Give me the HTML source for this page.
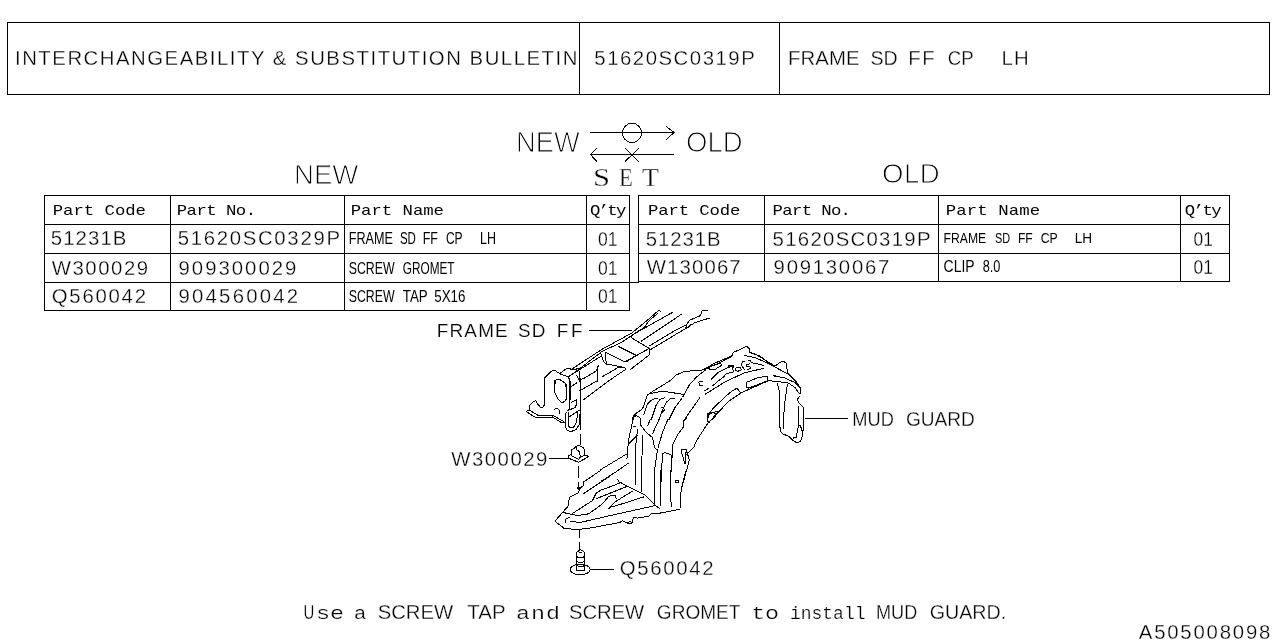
<!DOCTYPE html>
<html><head><meta charset="utf-8"><title>Interchangeability &amp; Substitution Bulletin</title>
<style>
html,body{margin:0;padding:0;background:#fff;width:1280px;height:640px;overflow:hidden}
svg{display:block;will-change:transform}
.t text{font-family:"Liberation Sans", sans-serif;fill:#000;white-space:pre}
</style></head><body>
<svg width="1280" height="640" viewBox="0 0 1280 640">
<g fill="none" stroke="#000" stroke-width="1" shape-rendering="crispEdges">
<path d="M7 22.5H1270"/>
<path d="M7 94.5H1270"/>
<path d="M7.5 22V95"/>
<path d="M1269.5 22V95"/>
<path d="M579.5 22V95"/>
<path d="M779.5 22V95"/>
<path d="M44 195.5H630"/>
<path d="M44 224.5H630"/>
<path d="M44 253.5H630"/>
<path d="M44 282.5H630"/>
<path d="M44 310.5H630"/>
<path d="M44.5 195V311"/>
<path d="M170.5 195V311"/>
<path d="M344.5 195V311"/>
<path d="M586.5 195V311"/>
<path d="M629.5 195V311"/>
<path d="M638 195.5H1230"/>
<path d="M638 224.5H1230"/>
<path d="M638 253.5H1230"/>
<path d="M629 282.5H639"/>
<path d="M638 281.5H1230"/>
<path d="M638.5 195V282"/>
<path d="M764.5 195V282"/>
<path d="M938.5 195V282"/>
<path d="M1180.5 195V282"/>
<path d="M1229.5 195V282"/>
</g>
<g class="t">
<text transform="translate(15 65)" font-size="20.35" letter-spacing="1.512" style="stroke:#fff;stroke-width:0.30px">INTERCHANGEABILITY &amp; SUBSTITUTION BULLETIN</text>
<text transform="translate(594.3 65)" font-size="20.35" letter-spacing="1.527" style="stroke:#fff;stroke-width:0.30px">51620SC0319P</text>
<text transform="translate(788.1 65)" font-size="20.35" letter-spacing="0.075" style="stroke:#fff;stroke-width:0.30px">FRAME</text>
<text transform="translate(870.4 65) scale(0.963 1)" font-size="20.35" style="stroke:#fff;stroke-width:0.30px">SD</text>
<text transform="translate(908.2 65)" font-size="20.35" letter-spacing="1.6" style="stroke:#fff;stroke-width:0.30px">FF</text>
<text transform="translate(947.8 65) scale(0.9145 1)" font-size="20.35" style="stroke:#fff;stroke-width:0.30px">CP</text>
<text transform="translate(1001.4 65)" font-size="20.35" letter-spacing="1.4" style="stroke:#fff;stroke-width:0.30px">LH</text>
<text transform="translate(516 152) scale(0.9396 1)" font-size="29.07" style="stroke:#fff;stroke-width:1.10px">NEW</text>
<text transform="translate(686 152) scale(0.9483 1)" font-size="29.07" style="stroke:#fff;stroke-width:1.10px">OLD</text>
<text transform="translate(593 186) scale(1.25 1)" font-size="24.44" style="font-family:'Liberation Serif',serif;stroke:#fff;stroke-width:0.30px">S</text>
<text transform="translate(619 186) scale(0.9286 1)" font-size="24.44" style="font-family:'Liberation Serif',serif;stroke:#fff;stroke-width:0.30px">E</text>
<text transform="translate(642 186) scale(1.1333 1)" font-size="24.44" style="font-family:'Liberation Serif',serif;stroke:#fff;stroke-width:0.30px">T</text>
<text transform="translate(294 184)" font-size="27.62" style="stroke:#fff;stroke-width:0.96px">NEW</text>
<text transform="translate(882 183)" font-size="27.62" letter-spacing="0.5" style="stroke:#fff;stroke-width:0.96px">OLD</text>
<text transform="translate(52.75 215) scale(1.22 1)" font-size="14.2" letter-spacing="-0.026" style="font-family:'Liberation Mono',monospace">Part Code</text>
<text transform="translate(176.75 215) scale(1.22 1)" font-size="14.2" letter-spacing="-0.439" style="font-family:'Liberation Mono',monospace">Part No.</text>
<text transform="translate(350.75 215) scale(1.22 1)" font-size="14.2" letter-spacing="-0.026" style="font-family:'Liberation Mono',monospace">Part Name</text>
<text transform="translate(589.9 215) scale(1.22 1)" font-size="14.2" letter-spacing="-1.366" style="font-family:'Liberation Mono',monospace">Q’ty</text>
<text transform="translate(50.75 245)" font-size="20.35" letter-spacing="1.1" style="stroke:#fff;stroke-width:0.30px">51231B</text>
<text transform="translate(177.7 245)" font-size="20.35" letter-spacing="1.691" style="stroke:#fff;stroke-width:0.30px">51620SC0329P</text>
<text transform="translate(348.75 244) scale(0.7902 1)" font-size="15.99">FRAME</text>
<text transform="translate(399.9 244) scale(0.7202 1)" font-size="15.99">SD</text>
<text transform="translate(422.75 244) scale(0.7812 1)" font-size="15.99">FF</text>
<text transform="translate(445.9 244) scale(0.7549 1)" font-size="15.99">CP</text>
<text transform="translate(480 244) scale(0.7815 1)" font-size="15.99">LH</text>
<text transform="translate(598 246) scale(0.8636 1)" font-size="20.35" style="stroke:#fff;stroke-width:0.30px">01</text>
<text transform="translate(51.75 275)" font-size="20.35" letter-spacing="1.542" style="stroke:#fff;stroke-width:0.30px">W300029</text>
<text transform="translate(178.5 275)" font-size="20.35" letter-spacing="2.0" style="stroke:#fff;stroke-width:0.30px">909300029</text>
<text transform="translate(348.75 274) scale(0.7715 1)" font-size="15.99">SCREW</text>
<text transform="translate(402.75 274) scale(0.7394 1)" font-size="15.99">GROMET</text>
<text transform="translate(598 275) scale(0.8636 1)" font-size="20.35" style="stroke:#fff;stroke-width:0.30px">01</text>
<text transform="translate(51.75 303)" font-size="20.35" letter-spacing="1.75" style="stroke:#fff;stroke-width:0.30px">Q560042</text>
<text transform="translate(178.5 303)" font-size="20.35" letter-spacing="2.225" style="stroke:#fff;stroke-width:0.30px">904560042</text>
<text transform="translate(348.75 302) scale(0.7715 1)" font-size="15.99">SCREW</text>
<text transform="translate(402.75 302) scale(0.8355 1)" font-size="15.99">TAP</text>
<text transform="translate(434.25 302) scale(0.8368 1)" font-size="15.99">5X16</text>
<text transform="translate(598 303) scale(0.8636 1)" font-size="20.35" style="stroke:#fff;stroke-width:0.30px">01</text>
<text transform="translate(648 215) scale(1.22 1)" font-size="14.2" letter-spacing="-0.102" style="font-family:'Liberation Mono',monospace">Part Code</text>
<text transform="translate(772.6 215) scale(1.22 1)" font-size="14.2" letter-spacing="-0.55" style="font-family:'Liberation Mono',monospace">Part No.</text>
<text transform="translate(945.7 215) scale(1.22 1)" font-size="14.2" letter-spacing="0.092" style="font-family:'Liberation Mono',monospace">Part Name</text>
<text transform="translate(1184.8 215) scale(1.22 1)" font-size="14.2" letter-spacing="-1.284" style="font-family:'Liberation Mono',monospace">Q’ty</text>
<text transform="translate(645.7 246)" font-size="20.35" letter-spacing="0.96" style="stroke:#fff;stroke-width:0.30px">51231B</text>
<text transform="translate(772.6 246)" font-size="20.35" letter-spacing="1.291" style="stroke:#fff;stroke-width:0.30px">51620SC0319P</text>
<text transform="translate(943.6 243) scale(0.8373 1)" font-size="14.54">FRAME</text>
<text transform="translate(995 243) scale(0.7509 1)" font-size="14.54">SD</text>
<text transform="translate(1017.9 243) scale(0.8333 1)" font-size="14.54">FF</text>
<text transform="translate(1040.7 243) scale(0.8409 1)" font-size="14.54">CP</text>
<text transform="translate(1074.7 243) scale(0.9343 1)" font-size="14.54">LH</text>
<text transform="translate(1193.6 246) scale(0.8552 1)" font-size="20.35" style="stroke:#fff;stroke-width:0.30px">01</text>
<text transform="translate(646.7 274)" font-size="20.35" letter-spacing="1.15" style="stroke:#fff;stroke-width:0.30px">W130067</text>
<text transform="translate(773.6 274)" font-size="20.35" letter-spacing="1.737" style="stroke:#fff;stroke-width:0.30px">909130067</text>
<text transform="translate(943.6 272) scale(0.8748 1)" font-size="15.99">CLIP</text>
<text transform="translate(982.7 272) scale(0.7961 1)" font-size="15.99">8.0</text>
<text transform="translate(1193.6 274) scale(0.8552 1)" font-size="20.35" style="stroke:#fff;stroke-width:0.30px">01</text>
<text transform="translate(436.7 337)" font-size="18.9" letter-spacing="1.225" style="stroke:#fff;stroke-width:0.17px">FRAME</text>
<text transform="translate(517.9 337)" font-size="18.9" letter-spacing="1.2" style="stroke:#fff;stroke-width:0.17px">SD</text>
<text transform="translate(556.7 337)" font-size="18.9" letter-spacing="2.7" style="stroke:#fff;stroke-width:0.17px">FF</text>
<text transform="translate(852.3 426) scale(0.8981 1)" font-size="20.35" style="stroke:#fff;stroke-width:0.30px">MUD</text>
<text transform="translate(905.9 426) scale(0.9384 1)" font-size="20.35" style="stroke:#fff;stroke-width:0.30px">GUARD</text>
<text transform="translate(451.25 466)" font-size="20.35" letter-spacing="1.5" style="stroke:#fff;stroke-width:0.30px">W300029</text>
<text transform="translate(619.75 575)" font-size="20.35" letter-spacing="1.675" style="stroke:#fff;stroke-width:0.30px">Q560042</text>
<text transform="translate(303.5 619) scale(0.7359 1)" font-size="20.35" style="stroke:#fff;stroke-width:0.30px">U</text>
<text transform="translate(316 619) scale(1.3 1)" font-size="18" style="font-family:'Liberation Mono',monospace;stroke:#fff;stroke-width:0.23px">se</text>
<text transform="translate(353.8 619) scale(1.1826 1)" font-size="18" style="font-family:'Liberation Mono',monospace;stroke:#fff;stroke-width:0.23px">a</text>
<text transform="translate(377.7 619)" font-size="20.35" letter-spacing="-0.05" style="stroke:#fff;stroke-width:0.30px">SCREW</text>
<text transform="translate(467.3 619) scale(1.0056 1)" font-size="20.35" style="stroke:#fff;stroke-width:0.30px">TAP</text>
<text transform="translate(516.1 619) scale(1.3 1)" font-size="18" letter-spacing="0.692" style="font-family:'Liberation Mono',monospace;stroke:#fff;stroke-width:0.23px">and</text>
<text transform="translate(569 619)" font-size="20.35" letter-spacing="-0.125" style="stroke:#fff;stroke-width:0.30px">SCREW</text>
<text transform="translate(656.8 619) scale(0.9371 1)" font-size="20.35" style="stroke:#fff;stroke-width:0.30px">GROMET</text>
<text transform="translate(751.3 619) scale(1.3 1)" font-size="18" letter-spacing="-0.231" style="font-family:'Liberation Mono',monospace;stroke:#fff;stroke-width:0.23px">to</text>
<text transform="translate(789.9 619)" font-size="18" style="font-family:'Liberation Mono',monospace;stroke:#fff;stroke-width:0.23px">install</text>
<text transform="translate(876 619) scale(0.8889 1)" font-size="20.35" style="stroke:#fff;stroke-width:0.30px">MUD</text>
<text transform="translate(929.7 619) scale(0.9668 1)" font-size="20.35" style="stroke:#fff;stroke-width:0.30px">GUARD.</text>
<text transform="translate(1138.75 639)" font-size="20.35" letter-spacing="1.806" style="stroke:#fff;stroke-width:0.30px">A505008098</text>
</g>
<g fill="none" stroke="#000" stroke-width="1" shape-rendering="crispEdges">
<path d="M590 132.5H674M666 126.2L674 132.5L666 139.8"/>
<circle cx="632" cy="132.9" r="9.6"/>
<path d="M590.4 154.5H674M596.8 148.2L590.4 154.5L596.8 161.5M625.1 148.2L638.8 161.5M638.8 148.2L625.1 161.5"/>
<path d="M589 330.5H632"/>
<path d="M805 418.5H848"/>
<path d="M549 458.5H570"/>
<path d="M590.5 569.5H614"/>
<path d="M544.1 378.1 L544.1 405.3 L543.1 407.2 L540.3 407.2 L537.5 403.9 L535.6 400.6 L533.3 402.0 L530.0 405.3 L529.1 410.0 L525.8 411.4"/>
<path d="M525.8 411.4 L535.6 417.5 L552.5 417.0 L560.9 422.2 L566.1 422.6"/>
<path d="M529.1 410.0 L538.4 415.6 L553.4 415.6 L564.7 422.2"/>
<path d="M555.3 380.0 L554.4 391.2 L557.2 397.8 L561.9 403.0 L565.6 400.6 L566.5 396.9 L566.5 383.7"/>
<path d="M554.4 409.5 L557.2 408.1 L559.5 410.9 L559.0 414.2"/>
<path d="M569.4 378.1 L569.4 409.1 L567.0 410.9"/>
<path d="M580.6 378.1 L580.6 430.3"/>
<path d="M566.1 411.9 L565.1 426.9 L567.5 430.6 L571.2 431.5 L575.9 429.7 L579.7 424.0 L580.1 410.9"/>
<path d="M568.4 411.9 L568.4 425.9 L570.3 427.8 L574.0 426.9 L576.9 421.2 L577.3 410.9"/>
<path d="M567.0 410.9 L575.9 407.2 L576.4 399.7 L571.2 402.5"/>
<path d="M568.9 417.0 L579.7 410.0"/>
<path d="M571.2 386.6 L576.9 382.8"/>
<path d="M544.4 400.0 L544.4 378.0 L552.8 370.0 L555.1 370.5 L559.8 373.7"/>
<path d="M559.8 373.7 L566.9 368.1 L568.7 368.1 L572.5 370.0 L578.1 368.6 L579.0 370.9"/>
<path d="M554.2 381.2 L556.6 379.4 L560.3 379.8 L565.0 383.1 L566.4 388.7 L566.4 400.0"/>
<path d="M554.2 381.2 L554.7 392.5 L558.4 400.0"/>
<path d="M559.8 373.7 L568.3 377.0 L570.1 381.2 L570.1 400.0"/>
<path d="M567.8 377.5 L575.3 371.9 L578.1 370.0"/>
<path d="M576.2 374.7 L579.0 379.4 L579.5 370.9"/>
<path d="M579.5 370.9 L580.9 400.0"/>
<path d="M572.0 368.9 L602.2 349.2 L631.7 333.1 L647.2 320.4 L658.5 310.5 L661.3 311.3"/>
<path d="M577.6 370.3 L602.2 351.3 L621.9 342.2 L633.1 334.5 L644.4 327.4 L648.6 321.1 L658.5 312.7"/>
<path d="M568.4 376.7 L600.8 356.3"/>
<path d="M631.7 335.2 L631.7 338.0 L649.3 348.5 L649.3 354.9 L630.3 369.6"/>
<path d="M633.1 334.5 L672.5 312.4"/>
<path d="M640.9 341.5 L681.7 314.1"/>
<path d="M648.6 346.4 L676.7 329.5 L686.6 324.6 L689.4 320.4 L700.6 315.5 L702.1 310.5 L707.7 310.1"/>
<path d="M650.0 349.9 L676.7 333.8 L686.6 328.1 L695.0 322.5 L709.8 318.0"/>
<path d="M686.6 324.6 L685.9 327.4 L688.0 328.1 L691.5 323.9"/>
<path d="M605.0 352.0 L624.7 361.9 L647.9 349.2"/>
<path d="M618.4 346.4 L636.7 355.6 L626.1 361.9"/>
<path d="M600.8 353.4 L603.6 361.9 L606.4 364.0"/>
<path d="M605.0 352.0 L606.4 364.0 L624.7 367.5 L626.1 368.9"/>
<path d="M579.4 379.4 L583.1 378.9 L596.2 370.9 L598.1 366.2 L599.1 365.3"/>
<path d="M597.2 365.8 L597.2 381.2"/>
<path d="M595.3 381.2 L598.1 381.2"/>
<path d="M579.4 391.1 L596.2 381.2"/>
<path d="M601.9 377.0 L618.7 367.2 L626.2 368.1"/>
<path d="M583.1 400.0 L598.1 388.7 L612.2 378.4 L626.2 369.1"/>
<path d="M580.5 434V445" />
<path d="M568.4 458.1 L578.4 462.2 L588.4 456.9 L586.9 455.3 L584.4 455.3"/>
<path d="M568.4 458.1 L568.4 455.3 L571.2 454.7"/>
<path d="M571.2 455.6 L571.2 450.0 L574.4 448.1 L576.6 446.2 L578.8 445.3 L580.6 446.2 L583.1 447.5 L584.4 449.4 L584.4 455.6"/>
<path d="M576.9 446.9 L576.6 449.7 L578.8 450.9 L580.6 456.9"/>
<path d="M571.2 455.6 L578.4 459.4 L580.6 456.9 L584.4 455.6"/>
<path d="M578.5 466V478"/>
<path d="M578.5 482V490"/>
<rect x="577" y="487" width="4" height="2" fill="#000" stroke="none"/>
<path d="M579.7 530V538M579.7 542V549"/>
<path d="M576.4 570.9 L576.4 553.1 L578.3 550.5 L580.1 549.8 L582.5 550.5 L584.8 553.1 L584.8 570.9"/>
<path d="M578.3 551.7 L580.1 553.1 L582.5 551.7"/>
<path d="M576.4 555.9 L578.3 557.6 L583.0 557.6 L584.8 555.9"/>
<path d="M576.4 560.4 L578.3 562.1 L583.0 562.1 L584.8 560.4"/>
<path d="M576.4 564.8 L578.3 566.5 L583.0 566.5 L584.8 564.8"/>
<path d="M576.4 569.2 L578.3 570.9 L583.0 570.9 L584.8 569.2"/>
<ellipse cx="580.2" cy="569.5" rx="10" ry="5.3"/>
<path d="M633.1 420.0 L633.8 415.0 L636.9 412.5 L640.0 411.2 L643.1 407.5 L647.5 395.0 L650.0 393.1 L660.0 386.9 L671.2 380.0 L676.2 375.0 L685.0 371.2 L700.0 370.6 L707.5 368.1 L720.0 362.5 L731.9 356.2 L733.1 352.5 L740.0 349.4 L746.2 346.2 L749.4 348.8 L750.0 352.5 L760.0 356.2 L770.0 363.8"/>
<path d="M648.8 393.8 L662.5 391.2 L683.8 394.4"/>
<path d="M643.8 415.0 L647.5 403.8 L652.5 399.4 L657.5 398.1"/>
<path d="M651.2 420.0 L656.2 405.0 L660.0 399.4 L665.0 397.5"/>
<path d="M658.8 420.0 L662.5 410.0 L666.2 402.5 L670.0 398.8 L675.0 398.8"/>
<path d="M660.6 408.1 L663.1 406.9 L664.4 410.0 L661.9 412.5"/>
<path d="M668.8 420.0 L675.0 407.5 L682.5 397.5 L690.0 383.8 L697.5 376.2 L706.2 369.4"/>
<path d="M685.0 418.8 L700.0 397.5"/>
<path d="M698.8 381.9 L702.5 381.2"/>
<path d="M698.8 381.9 L699.4 385.0 L703.1 385.6"/>
<path d="M702.5 370.0 L715.0 363.1 L731.2 356.2 L733.1 352.5 L740.0 349.4 L746.9 346.2 L749.4 348.8 L750.0 352.5 L755.0 353.8 L765.0 360.0 L775.0 366.2 L780.0 362.5 L783.1 361.2 L786.2 363.1 L787.5 372.5 L795.0 380.0 L800.0 387.5 L800.6 393.8"/>
<path d="M778.8 381.8 L787.5 382.5 L795.0 387.5 L799.4 393.8"/>
<path d="M773.8 375.6 L785.0 378.1 L795.0 382.5 L800.0 387.5"/>
<path d="M744.4 355.6 L755.0 357.5 L770.0 364.4 L787.5 373.8 L797.5 383.8 L800.0 387.5"/>
<path d="M708.1 367.2 L710.3 370.0 L714.7 369.7 L721.6 365.3 L720.6 363.1 L708.1 367.5"/>
<path d="M711.2 379.4 L718.1 372.5 L728.1 367.5 L733.8 365.6"/>
<path d="M728.1 367.5 L728.1 365.3 L733.8 365.3 L732.5 368.8 L734.1 371.9"/>
<path d="M735.6 368.1 L737.5 367.2 L740.6 367.5 L741.2 370.0 L738.1 371.2 L735.6 370.6 L735.6 368.1"/>
<path d="M745.0 361.2 L742.5 361.6 L741.2 364.4 L744.4 369.7"/>
<path d="M750.0 363.8 L746.9 364.4 L746.6 366.2 L750.0 366.6 L750.6 368.4 L746.6 369.7"/>
<path d="M747.5 360.6 L750.0 360.6 L751.9 362.8 L763.8 365.3"/>
<path d="M712.5 386.2 L716.9 381.9 L723.8 376.9 L726.2 373.8 L733.1 371.9"/>
<path d="M704.4 391.2 L709.4 387.5"/>
<path d="M705.0 394.4 L725.0 381.9 L743.8 373.1 L764.4 368.1"/>
<path d="M746.2 382.5 L746.9 387.5 L748.8 388.1 L768.1 380.6 L767.5 376.6 L758.8 377.2 L746.2 382.5"/>
<path d="M740.6 393.1 L768.1 380.9 L780.0 381.2"/>
<path d="M773.1 375.0 L775.0 376.6 L780.0 376.6"/>
<path d="M707.5 420.0 L708.8 413.8 L713.8 407.5 L730.0 392.5 L736.9 388.1 L740.0 392.2 L740.9 393.1"/>
<path d="M712.5 420.0 L717.5 413.1 L728.8 401.2 L740.9 393.1"/>
<path d="M708.8 415.0 L712.5 412.2 L716.2 414.1"/>
<path d="M776.9 382.5 L779.4 391.2 L780.0 427.5 L781.2 432.5 L783.8 434.4 L788.8 436.2 L793.1 440.6 L796.2 442.5 L800.0 441.9 L801.9 438.8 L802.5 430.0"/>
<path d="M787.5 383.8 L784.4 405.0 L783.1 428.8"/>
<path d="M799.4 396.2 L797.5 399.4 L798.8 402.5 L800.6 404.4 L802.5 406.2 L803.8 408.8 L803.8 430.0 L801.2 430.0"/>
<path d="M798.8 406.2 L798.1 427.5 L797.5 430.0 L796.2 437.5 L793.1 438.1"/>
<path d="M797.5 426.2 L800.0 425.6 L801.9 429.4"/>
<path d="M634.4 415.0 L632.5 417.5 L631.9 425.0 L629.4 435.0 L628.1 445.0 L627.5 453.8 L626.9 458.8"/>
<path d="M634.4 415.0 L638.8 411.2 L641.2 410.0"/>
<path d="M632.5 417.5 L636.2 415.6 L640.0 417.5 L640.6 425.0 L646.2 432.5 L652.5 437.5 L654.4 447.5 L657.5 450.0"/>
<path d="M633.1 426.2 L635.6 426.2"/>
<path d="M600.0 470.0 L612.5 462.5 L625.0 455.0 L628.1 454.4"/>
<path d="M601.2 481.2 L615.0 472.5 L629.4 462.5"/>
<path d="M628.8 443.8 L637.5 435.0"/>
<path d="M637.5 428.8 L635.6 447.5 L635.6 485.0"/>
<path d="M642.5 435.0 L641.2 490.0"/>
<path d="M657.5 450.0 L655.0 467.5 L654.4 490.0"/>
<path d="M660.6 490.0 L662.5 453.8 L665.0 452.5 L671.2 455.0 L671.9 457.5 L670.0 490.0"/>
<path d="M672.5 457.5 L672.5 445.0 L677.5 435.0 L683.1 427.5 L683.1 421.2 L687.5 417.5"/>
<path d="M668.1 418.8 L662.5 432.5 L658.1 447.5"/>
<path d="M650.6 418.8 L647.5 426.2"/>
<path d="M658.8 420.0 L652.5 433.8"/>
<path d="M720.0 410.0 L707.5 423.8 L696.2 441.2 L693.8 447.5 L690.0 451.2 L687.5 453.8 L689.4 460.0 L681.2 490.0"/>
<path d="M681.2 450.0 L686.2 449.4 L685.0 463.8 L681.9 453.8 L681.2 450.0"/>
<path d="M707.5 413.8 L712.5 412.5 L718.8 411.2"/>
<path d="M707.5 413.8 L707.5 421.2 L710.0 422.5"/>
<path d="M675.6 480.0 L678.1 480.0 L678.1 482.5 L675.6 482.5 L675.6 480.0"/>
<path d="M685.6 452.5 L687.5 452.5 L687.5 454.4 L685.6 454.4"/>
<path d="M555.0 521.2 L562.5 512.5 L568.1 506.2 L569.4 497.5 L578.1 493.1 L580.6 488.0 L583.8 485.0 L583.8 481.9 L601.2 470.0"/>
<path d="M582.5 494.4 L618.8 470.0"/>
<path d="M555.0 521.2 L563.8 528.1 L573.8 529.4 L586.2 528.8 L596.2 526.9 L606.2 525.0 L620.0 522.5 L622.5 520.6 L627.5 523.1 L631.2 523.8 L633.8 517.5 L637.5 518.1 L648.8 516.2 L651.2 513.8 L660.0 513.1 L676.2 510.0 L680.0 509.4"/>
<path d="M563.1 512.5 L577.5 515.6 L588.8 513.8"/>
<path d="M565.0 522.5 L565.0 519.4 L570.0 516.9"/>
<path d="M570.0 521.2 L580.0 522.5 L607.5 516.2 L655.0 505.6"/>
<path d="M571.9 513.8 L592.5 500.6 L596.2 493.1 L601.2 490.0 L615.0 485.0 L622.5 481.9"/>
<path d="M617.5 478.8 L618.8 481.9 L645.0 495.0 L655.0 505.0 L660.0 508.8"/>
<path d="M588.8 513.8 L602.5 503.8 L608.8 496.2 L615.0 495.0 L616.2 498.8"/>
<path d="M596.2 498.8 L602.5 496.2 L627.5 486.2"/>
<path d="M608.8 508.8 L615.0 501.9 L632.5 491.2"/>
<path d="M612.5 506.9 L643.8 496.9"/>
<path d="M635.6 470.0 L635.6 485.0"/>
<path d="M641.2 470.0 L641.9 492.5"/>
<path d="M654.4 470.0 L655.0 503.8"/>
<path d="M660.0 470.0 L660.0 506.2"/>
<path d="M670.0 470.0 L671.2 507.5"/>
<path d="M686.2 470.0 L681.2 488.8 L680.0 508.8"/>
<path d="M675.6 480.0 L678.1 480.0 L678.1 482.5 L675.6 482.5 L675.6 480.0"/>
<path d="M627.5 523.1 L630.0 521.2 L632.5 523.1"/>
</g>
</svg>
</body></html>
